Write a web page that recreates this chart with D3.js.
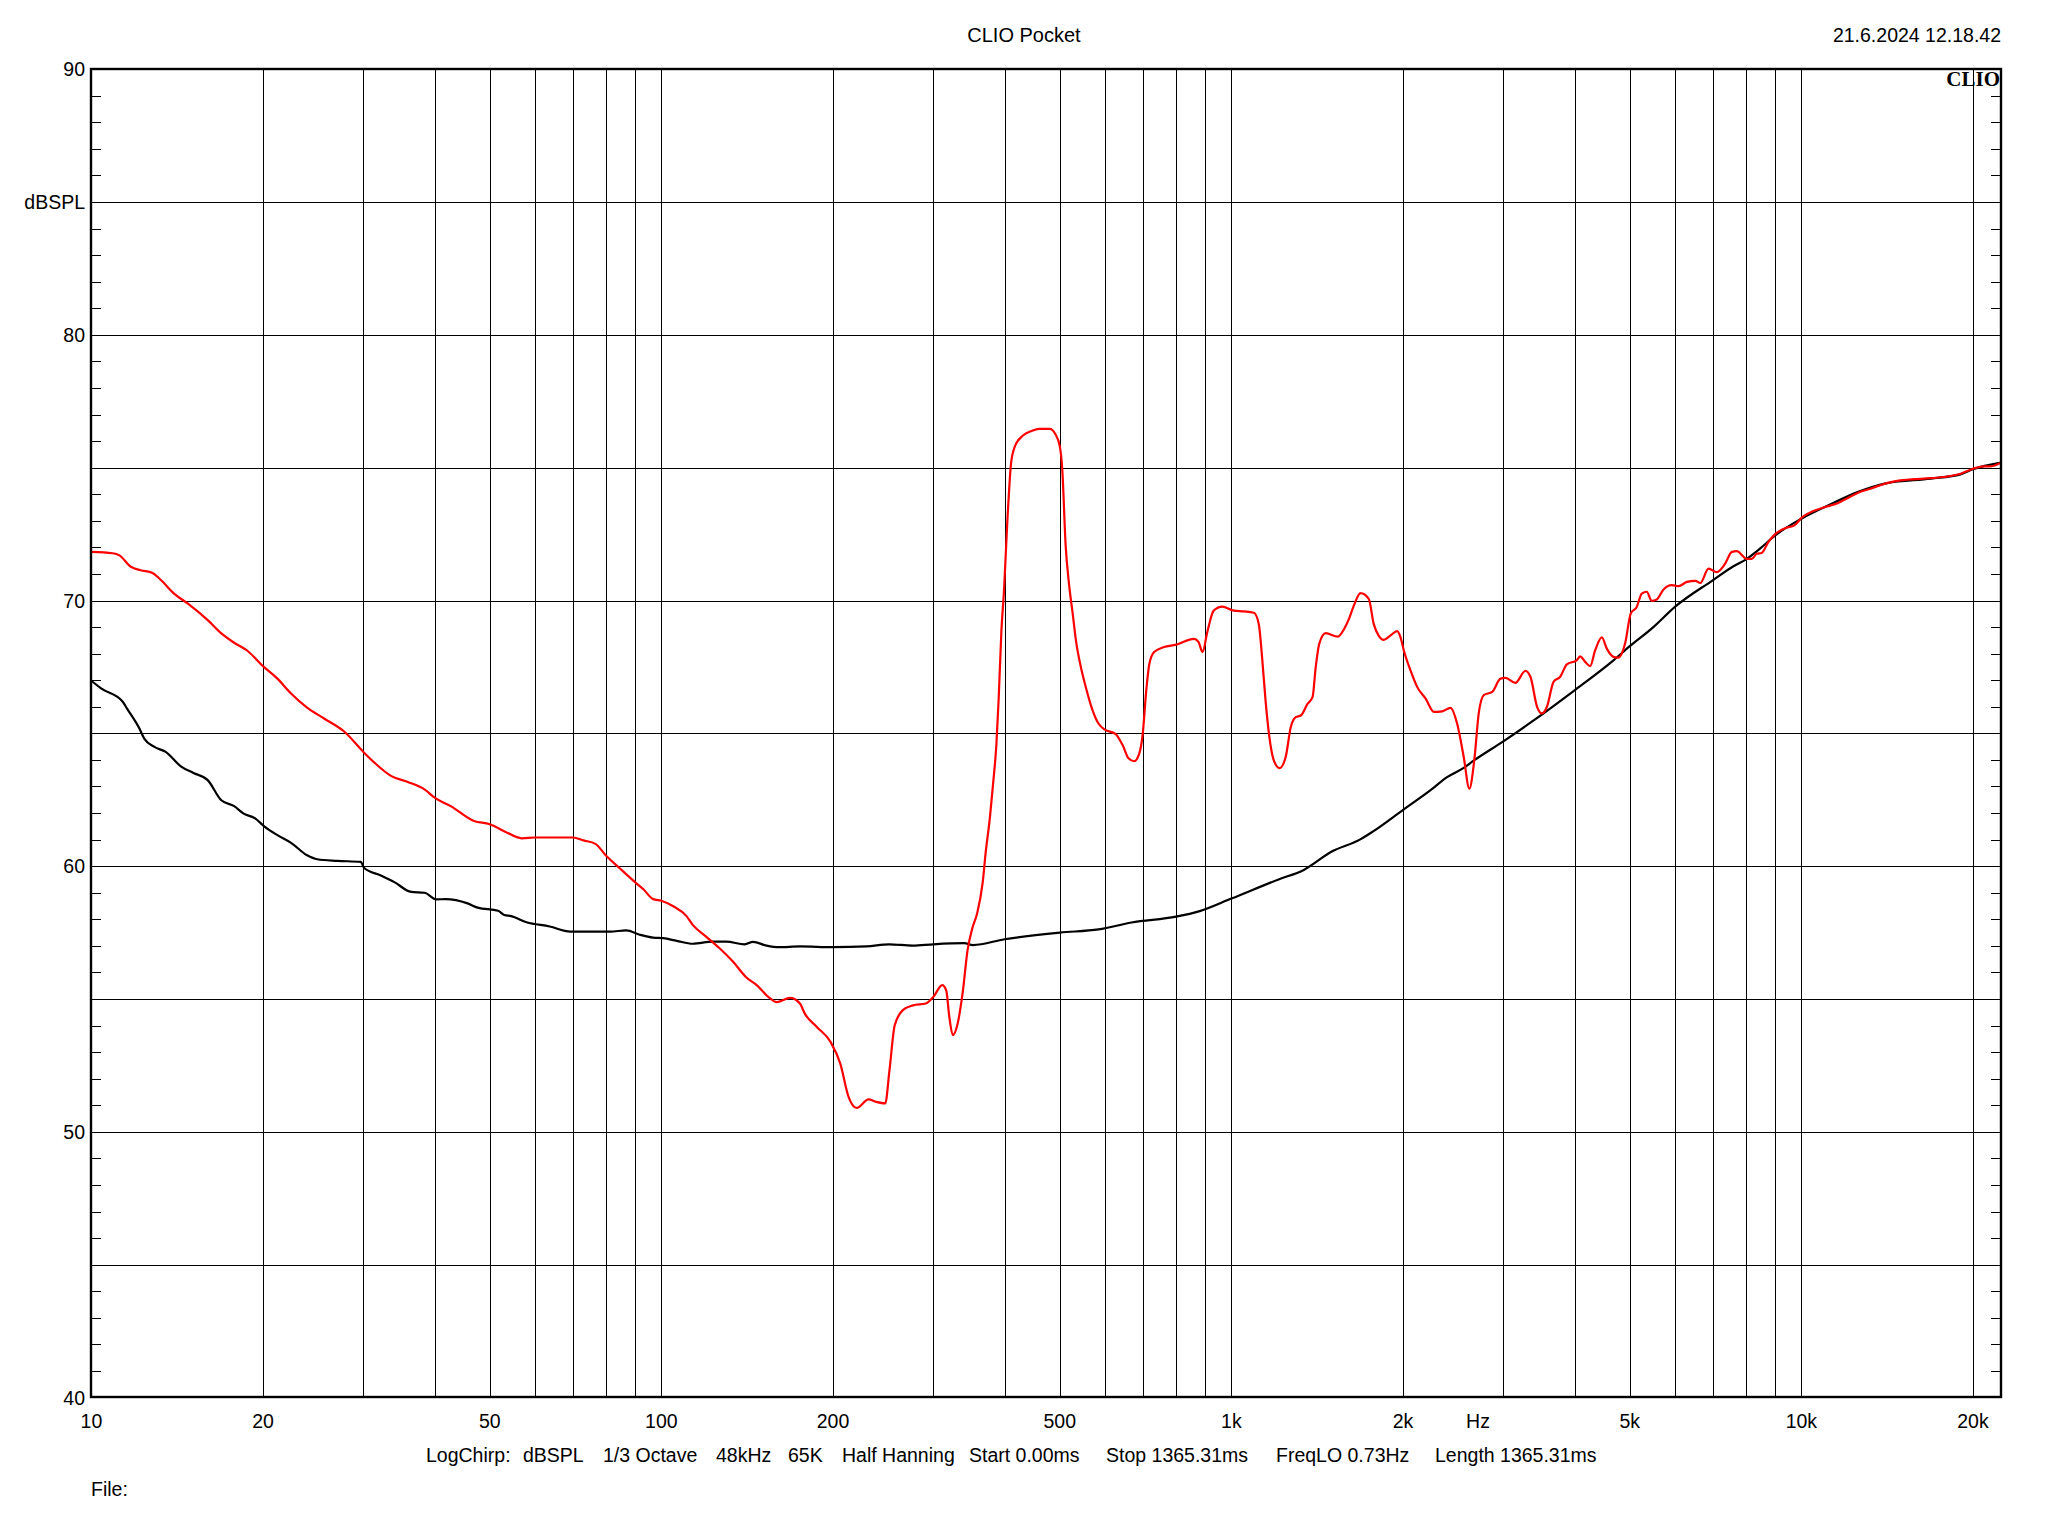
<!DOCTYPE html>
<html>
<head>
<meta charset="utf-8">
<script src="https://cdnjs.cloudflare.com/ajax/libs/d3/7.8.5/d3.min.js"></script>
<style>
  html, body { margin: 0; padding: 0; background: #ffffff; }
  svg { display: block; }
  text { font-family: "Liberation Sans", Arial, sans-serif; fill: #000; }
</style>
</head>
<body>
<svg id="chart" width="2048" height="1536"></svg>
<script>
// ---------------- DATA ----------------
const redFreq = [10,10.9,11.2,11.73,12.2,12.8,13.2,14.0,14.75,16.0,16.9,17.8,18.8,20,21.2,22.4,23.9,25.6,27.8,30,31.4,33.6,35.9,38.4,40,42.7,46.9,50,53.2,56.9,60,64.5,70,73.0,76.6,80,84.5,90,93.0,96.7,100,105.1,110.5,113.5,119.8,126.5,133.5,141,146.8,155,159.3,168.2,175,178.5,187.4,198,206,213,220,231,238,247,251.3,256.6,265.2,276.4,291,300,311,316,320,324.5,331,337.6,344.5,351,358,366,371,377,382,387,390.6,395,399,402,405,408,410.6,417,431,446,460,480,491,500,505,512,519,527,534,545,556,571,585,600,626,645,660,675,689,699,709,718,732,760,800,860,876,890,907,931,964,1010,1052,1095,1117,1132,1148,1164,1187,1215,1245,1271,1297,1324,1360,1388,1406,1426,1464,1537,1577,1608,1640,1685,1742,1777,1813,1850,1900,1954,1980,2007,2062,2119,2192,2266,2343,2423,2489,2556,2615,2668,2716,2772,2868,2966,3026,3150,3280,3347,3438,3507,3578,3675,3775,3878,4036,4091,4175,4261,4348,4466,4557,4681,4777,4906,5020,5143,5248,5355,5464,5575,5726,5924,6088,6300,6515,6648,6873,7107,7350,7552,7705,8021,8183,8350,8520,8751,8987,9408,9720,10040,10313,10655,11080,11600,11980,12550,13220,14140,14910,16400,17800,19020,20000,20900,21450,22400];
const redDb = [71.83,71.78,71.70,71.27,71.14,71.04,70.80,70.24,69.89,69.26,68.76,68.41,68.10,67.53,67.06,66.50,65.97,65.56,65.06,64.30,63.89,63.39,63.17,62.89,62.58,62.26,61.70,61.58,61.30,61.05,61.08,61.08,61.08,60.97,60.84,60.39,59.92,59.39,59.13,58.76,58.70,58.48,58.14,57.79,57.35,56.91,56.41,55.81,55.53,55.03,54.88,55.04,54.83,54.45,53.95,53.39,52.57,51.32,50.90,51.22,51.13,51.07,52.32,54.00,54.58,54.76,54.83,55.08,55.52,55.33,54.33,53.64,54.08,55.21,56.84,57.65,58.22,59.35,60.60,61.83,63.13,64.57,66.30,68.89,70.33,71.77,73.20,74.37,75.16,75.80,76.21,76.38,76.46,76.46,76.27,75.81,74.94,72.06,70.62,69.47,68.46,67.45,66.70,65.86,65.36,65.14,64.98,64.54,64.06,63.95,64.23,64.98,66.61,67.62,68.06,68.24,68.34,68.56,68.43,68.06,68.80,69.62,69.77,69.62,69.59,69.54,69.12,67.87,66.24,64.98,63.98,63.69,64.10,65.23,65.61,65.67,66.11,66.36,67.49,68.37,68.77,68.64,68.93,69.31,69.81,70.28,70.06,69.12,68.68,68.52,68.68,68.85,68.62,68.12,67.37,66.74,66.31,65.81,65.83,65.96,65.37,64.12,62.92,63.99,65.75,66.44,66.56,67.06,67.09,66.90,67.35,67.13,66.00,65.75,66.00,66.94,67.13,67.60,67.75,67.90,67.69,67.53,68.13,68.61,68.19,67.88,67.85,68.38,69.51,69.76,70.26,70.33,69.99,70.04,70.41,70.58,70.54,70.70,70.74,70.66,71.20,71.07,71.39,71.83,71.86,71.57,71.57,71.76,71.79,72.20,72.49,72.74,72.83,73.14,73.29,73.42,73.54,73.67,73.83,74.05,74.21,74.42,74.52,74.59,74.65,74.77,74.96,75.05,75.05,75.19];

const blackFreq = [10,10.4,11.35,11.55,12.14,12.38,12.9,13.5,14.35,15.1,16.0,16.9,17.8,18.5,19.4,20.1,21.2,22.4,23.9,24.9,27.0,29.7,30.1,32.2,34.0,36.4,38.4,40.3,41.8,45.7,47.6,51.7,53.0,54.5,58.0,63.7,69.2,74.0,81.2,86.8,91.6,96.7,100.7,106.4,113.5,123.1,130,140,144.8,152.9,160.4,175.1,200,229,251,276,300,340,352,400,500,585,668,800,880,1000,1210,1340,1500,1680,1770,2007,2236,2390,2556,2664,3000,3347,4000,4681,5000,5500,6000,7000,7600,8000,8460,9000,10000,11300,12550,14140,16870,19020,20000,22400];
const blackDb = [66.98,66.69,66.19,65.93,65.18,64.80,64.49,64.30,63.76,63.51,63.24,62.48,62.26,61.98,61.79,61.50,61.17,60.88,60.41,60.26,60.20,60.16,59.93,59.65,59.40,59.03,59.00,58.75,58.76,58.60,58.44,58.32,58.16,58.12,57.89,57.73,57.54,57.54,57.54,57.58,57.42,57.31,57.29,57.19,57.08,57.16,57.16,57.06,57.15,57.01,56.95,56.98,56.95,56.98,57.06,57.01,57.06,57.10,57.03,57.25,57.50,57.62,57.88,58.10,58.31,58.78,59.50,59.86,60.55,61.00,61.30,62.14,62.86,63.35,63.70,63.98,64.70,65.40,66.62,67.75,68.28,69.00,69.76,70.77,71.29,71.55,71.95,72.45,73.08,73.64,74.08,74.42,74.59,74.75,74.94,75.19];

const xTickValues = [10,20,50,100,200,500,1000,2000,5000,10000,20000];
const xTickLabels = ["10","20","50","100","200","500","1k","2k","5k","10k","20k"];
const yTickValues = [90,80,70,60,50,40];
const yTickLabels = ["90","80","70","60","50","40"];
const yUnitLabel = "dBSPL";
const yUnitValue = 85;
const titleText = "CLIO Pocket";
const dateText = "21.6.2024 12.18.42";
const logoText = "CLIO";
const infoItems = ["LogChirp:","dBSPL","1/3 Octave","48kHz","65K","Half Hanning","Start 0.00ms","Stop 1365.31ms","FreqLO 0.73Hz","Length 1365.31ms"];
const infoX = [426,523,603,716,788,842,969,1106,1276,1435];
const fileText = "File:";

// ---------------- LAYOUT ----------------
const L = 91, R = 2001, T = 69, B = 1397;
const x = d3.scaleLog().domain([10, 22400]).range([91.4, 2001]);
const y = d3.scaleLinear().domain([40, 90]).range([1397.5, 69.2]);

const svg = d3.select("#chart");
svg.append("rect").attr("width",2048).attr("height",1536).attr("fill","#fff");

const g = svg.append("g");

// vertical grid: 20..90, 100..900, 1k..9k, 10k, 20k
const vGrid = [];
[10,100,1000,10000].forEach(dec => {
  for (let m = 1; m <= 9; m++) {
    const f = dec * m;
    if (f === 10) continue;
    if (f > 20000) continue;
    vGrid.push(f);
  }
});
g.selectAll("line.vg").data(vGrid).enter().append("line")
  .attr("x1", d => Math.round(x(d)) + 0.5).attr("x2", d => Math.round(x(d)) + 0.5)
  .attr("y1", T).attr("y2", B)
  .attr("stroke", "#000").attr("stroke-width", 1.2).attr("shape-rendering","crispEdges");

// horizontal grid every 5 dB
const hGrid = d3.range(45, 90, 5);
g.selectAll("line.hg").data(hGrid).enter().append("line")
  .attr("x1", L).attr("x2", R)
  .attr("y1", d => Math.round(y(d)) + 0.5).attr("y2", d => Math.round(y(d)) + 0.5)
  .attr("stroke", "#000").attr("stroke-width", 1.2).attr("shape-rendering","crispEdges");

// minor ticks each 1 dB, left and right, inside
const minor = d3.range(41, 90, 1).filter(d => d % 5 !== 0);
g.selectAll("line.tl").data(minor).enter().append("line")
  .attr("x1", L).attr("x2", L + 10)
  .attr("y1", d => Math.round(y(d)) + 0.5).attr("y2", d => Math.round(y(d)) + 0.5)
  .attr("stroke", "#000").attr("stroke-width", 1.2).attr("shape-rendering","crispEdges");
g.selectAll("line.tr").data(minor).enter().append("line")
  .attr("x1", R - 10).attr("x2", R)
  .attr("y1", d => Math.round(y(d)) + 0.5).attr("y2", d => Math.round(y(d)) + 0.5)
  .attr("stroke", "#000").attr("stroke-width", 1.2).attr("shape-rendering","crispEdges");

// curves
const line = d3.line().x(d => x(d[0])).y(d => y(d[1])).curveMonotoneX ? null : null;
const mk = d3.line().x(d => x(d[0])).y(d => y(d[1])).curve(d3.curveMonotoneX);
const blackData = blackFreq.map((f,i) => [f, blackDb[i]]);
const redData = redFreq.map((f,i) => [f, redDb[i]]);
g.append("path").attr("d", mk(blackData)).attr("fill","none")
  .attr("stroke","#000").attr("stroke-width",2.2).attr("stroke-linejoin","round");
g.append("path").attr("d", mk(redData)).attr("fill","none")
  .attr("stroke","#ff0000").attr("stroke-width",2.2).attr("stroke-linejoin","round");

// frame
g.append("rect").attr("x", L).attr("y", T).attr("width", R - L).attr("height", B - T)
  .attr("fill","none").attr("stroke","#000").attr("stroke-width",2.4);

// logo
svg.append("text").attr("x", 2000).attr("y", 86).attr("text-anchor","end")
  .style("font-family","'Liberation Serif', 'Times New Roman', serif")
  .style("font-weight","bold").style("font-size","21px").text(logoText);

// y labels
svg.selectAll("text.yl").data(yTickValues).enter().append("text")
  .attr("x", 85).attr("y", d => y(d) + 7).attr("text-anchor","end")
  .style("font-size","19.5px").text((d,i) => yTickLabels[i]);
svg.append("text").attr("x", 85).attr("y", y(yUnitValue) + 7).attr("text-anchor","end")
  .style("font-size","19.5px").text(yUnitLabel);

// x labels
svg.selectAll("text.xl").data(xTickValues).enter().append("text")
  .attr("x", d => x(d)).attr("y", 1428).attr("text-anchor","middle")
  .style("font-size","19.5px").text((d,i) => xTickLabels[i]);
svg.append("text").attr("x", 1478).attr("y", 1428).attr("text-anchor","middle")
  .style("font-size","19.5px").text("Hz");

// title / date
svg.append("text").attr("x", 1024).attr("y", 42).attr("text-anchor","middle")
  .style("font-size","20px").text(titleText);
svg.append("text").attr("x", 2001).attr("y", 42).attr("text-anchor","end")
  .style("font-size","19.5px").text(dateText);

// info line
svg.selectAll("text.info").data(infoItems).enter().append("text")
  .attr("x", (d,i) => infoX[i]).attr("y", 1462)
  .style("font-size","19.5px").text(d => d);

svg.append("text").attr("x", 91).attr("y", 1496).style("font-size","19.5px").text(fileText);
</script>
</body>
</html>
